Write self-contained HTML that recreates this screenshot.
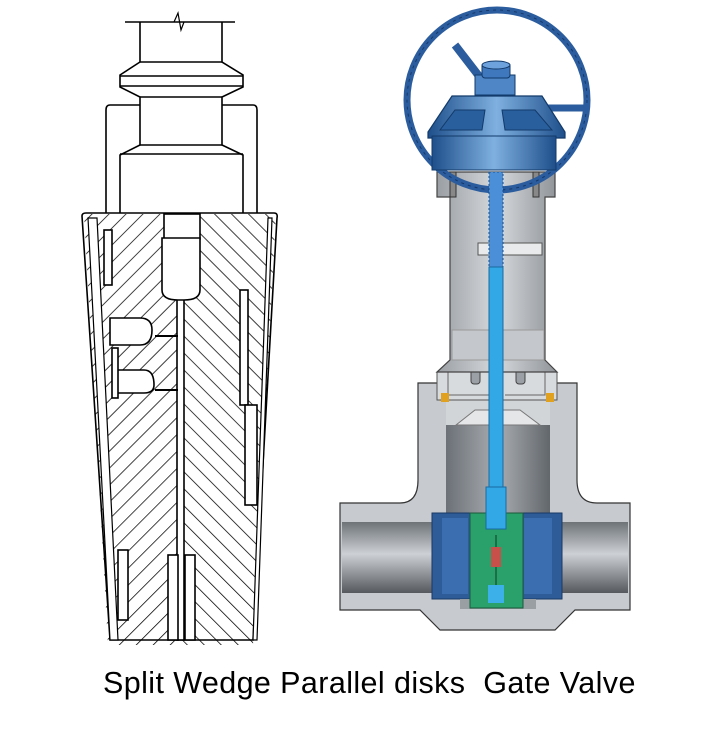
<!DOCTYPE html>
<html><head><meta charset="utf-8"><style>
html,body{margin:0;padding:0;background:#fff;width:726px;height:734px;overflow:hidden}
svg{position:absolute;left:0;top:0}
.t{position:absolute;left:103px;top:666px;font-family:"Liberation Sans",sans-serif;font-size:30.5px;color:#000;white-space:nowrap;letter-spacing:0.4px}
</style></head><body>
<svg width="726" height="734" viewBox="0 0 726 734">
<defs>
<pattern id="hl" patternUnits="userSpaceOnUse" width="12" height="12" patternTransform="rotate(45)">
<line x1="0" y1="0" x2="0" y2="12" stroke="#000" stroke-width="1.5"/></pattern>
<pattern id="hr" patternUnits="userSpaceOnUse" width="12" height="12" patternTransform="rotate(-45)">
<line x1="0" y1="0" x2="0" y2="12" stroke="#000" stroke-width="1.5"/></pattern>
<linearGradient id="pipe" x1="0" y1="0" x2="0" y2="1"><stop offset="0" stop-color="#6e7378"/><stop offset=".45" stop-color="#cdd1d5"/><stop offset="1" stop-color="#55595e"/></linearGradient>
<linearGradient id="bon" x1="0" y1="0" x2="1" y2="0"><stop offset="0" stop-color="#9a9fa4"/><stop offset=".5" stop-color="#d6d9dc"/><stop offset="1" stop-color="#8f9499"/></linearGradient>
<linearGradient id="cav" x1="0" y1="0" x2="1" y2="0"><stop offset="0" stop-color="#6c7177"/><stop offset=".5" stop-color="#a9adb2"/><stop offset="1" stop-color="#62676c"/></linearGradient>
<linearGradient id="cap" x1="0" y1="0" x2="1" y2="0"><stop offset="0" stop-color="#1f4f8a"/><stop offset=".5" stop-color="#7fb0e0"/><stop offset="1" stop-color="#1f4f8a"/></linearGradient>
<clipPath id="wl"><path d="M84 214 L181 214 L181 645 L108 645 Z"/></clipPath>
<clipPath id="wr"><path d="M181 214 L276 214 L253 645 L181 645 Z"/></clipPath>
</defs>
<!-- LEFT drawing -->
<g fill="none" stroke="#000" stroke-width="1.6">
<line x1="125" y1="22" x2="235" y2="22"/>
<path d="M174 22 L178 13 L181 30 L184 22" stroke-width="1.2"/>
<path d="M140 22 V62 L120 75 V87 L140 97 V145 L120 155 V213"/>
<path d="M222 22 V62 L243 75 V87 L222 97 V145 L243 155 V213"/>
<line x1="140" y1="62" x2="222" y2="62"/><line x1="120" y1="76" x2="243" y2="76"/><line x1="120" y1="86" x2="243" y2="86"/><line x1="140" y1="97" x2="222" y2="97"/>
<line x1="140" y1="145" x2="222" y2="145"/><line x1="120" y1="154" x2="243" y2="154"/>
<path d="M140 105 H110 Q106 105 106 110 V213"/>
<path d="M222 105 H253 Q257 105 257 110 V213"/>
</g>
<rect x="84" y="214" width="97" height="431" fill="url(#hl)" clip-path="url(#wl)"/>
<rect x="181" y="214" width="96" height="431" fill="url(#hr)" clip-path="url(#wr)"/>
<g fill="#fff" stroke="#000" stroke-width="1.6">
<path d="M82 216 Q82 213 86 213 L274 213 Q278 213 277 218 L253 640 L110 640 Z" fill="none"/>
<path d="M88 218 L97 218 L118 640 L110 640 Z" stroke-width="1.2"/>
<path d="M268 218 L272 218 L257 640 L253 640 Z" stroke-width="1.2"/>
<rect x="164" y="214" width="36" height="25"/>
<rect x="177" y="250" width="7" height="390"/>
<path d="M162 238 H200 V290 Q200 300 184 300 H178 Q162 300 162 290 Z"/>
<path d="M110 318 H140 Q152 318 152 330 Q152 345 140 345 H110 Z"/>
<path d="M116 370 H144 Q154 370 154 385 Q154 393 144 393 H116 Z"/>
<line x1="155" y1="336" x2="178" y2="336" stroke-width="2"/>
<line x1="155" y1="390" x2="178" y2="390" stroke-width="2"/>
<rect x="104" y="230" width="8" height="55"/>
<rect x="112" y="348" width="6" height="50"/>
<rect x="240" y="290" width="8" height="115"/>
<rect x="245" y="405" width="12" height="100"/>
<rect x="118" y="550" width="10" height="70"/>
<rect x="168" y="555" width="10" height="85"/>
<rect x="185" y="555" width="10" height="85"/>
</g>
<!-- RIGHT valve -->
<path d="M340 503 H400 Q418 503 418 480 V383 H577 V480 Q577 503 597 503 H630 V610 H575 L555 630 H440 L420 610 H340 Z" fill="#c7cbcf" stroke="#333" stroke-width="1.2"/>
<rect x="342" y="522" width="286" height="71" fill="url(#pipe)"/>
<rect x="446" y="425" width="104" height="90" fill="url(#cav)"/>
<path d="M446 400 H550 V425 H446 Z" fill="#d2d5d8"/>
<path d="M456 425 L475 410 H520 L540 425 Z" fill="#e4e6e8" stroke="#777"/>
<rect x="432" y="513" width="130" height="86" fill="#2d5c99" stroke="#1a3a66"/>
<rect x="442" y="518" width="26" height="76" fill="#3a6eb0"/>
<rect x="524" y="518" width="28" height="76" fill="#3a6eb0"/>
<rect x="460" y="599" width="76" height="10" fill="#9a9fa4"/>
<rect x="470" y="513" width="53" height="95" fill="#2aa06a" stroke="#1c5a3c"/>
<line x1="496" y1="535" x2="496" y2="585" stroke="#0d3d24"/>
<rect x="491" y="547" width="10" height="20" fill="#c8504a"/>
<rect x="488" y="585" width="16" height="18" fill="#3cb0e8"/>
<path d="M437 372 H557 V400 H437 Z" fill="#d8dbde" stroke="#555"/>
<path d="M448 372 L448 395 H490 M545 372 V395 H505" fill="none" stroke="#666"/>
<rect x="441" y="393" width="8" height="9" fill="#e0a020"/>
<rect x="546" y="393" width="8" height="9" fill="#e0a020"/>
<rect x="471" y="336" width="9" height="48" rx="3" fill="#9aa0a6" stroke="#444"/>
<rect x="516" y="336" width="9" height="48" rx="3" fill="#9aa0a6" stroke="#444"/>
<rect x="456" y="362" width="10" height="8" fill="#c8504a"/>
<rect x="530" y="362" width="10" height="8" fill="#c8504a"/>
<path d="M437 172 H555 V197 H545 V360 L557 372 H437 L450 360 V197 H437 Z" fill="url(#bon)" stroke="#444" stroke-width="1.2"/>
<rect x="452" y="330" width="92" height="30" fill="#c4c8cc" stroke="#999"/>
<rect x="478" y="243" width="64" height="12" fill="#e8eaec" stroke="#555"/>
<rect x="450" y="172" width="6" height="25" fill="#888" stroke="#333"/>
<rect x="533" y="172" width="6" height="25" fill="#888" stroke="#333"/>
<circle cx="497" cy="100" r="90" fill="none" stroke="#2b5d9e" stroke-width="7"/>
<circle cx="497" cy="100" r="90" fill="none" stroke="#16386a" stroke-width="1" stroke-dasharray="3 4"/>
<line x1="455" y1="45" x2="482" y2="80" stroke="#2b5d9e" stroke-width="8"/>
<line x1="545" y1="108" x2="588" y2="108" stroke="#2b5d9e" stroke-width="7"/>
<path d="M428 132 L452 96 H542 L565 132 V138 H428 Z" fill="url(#cap)" stroke="#123a6a" stroke-width="1.2"/>
<rect x="432" y="136" width="124" height="34" fill="url(#cap)" stroke="#123a6a"/>
<path d="M440 130 L455 110 H485 L482 130 Z M505 130 L502 110 H535 L552 130 Z" fill="#2a5f9e" stroke="#123a6a"/>
<rect x="475" y="75" width="40" height="20" fill="#4f86c6" stroke="#123a6a"/>
<rect x="482" y="63" width="28" height="15" rx="3" fill="#3f78bd" stroke="#123a6a"/>
<ellipse cx="496" cy="65" rx="14" ry="4" fill="#6ea2dc" stroke="#123a6a"/>
<rect x="489" y="172" width="14" height="95" fill="#4a8fd8" stroke="#1c4f8a" stroke-dasharray="2 2"/>
<rect x="489" y="267" width="14" height="220" fill="#33a8e6" stroke="#1a6aa0"/>
<rect x="486" y="487" width="20" height="42" fill="#33a8e6" stroke="#1a6aa0"/>
</svg>
<div class="t">Split Wedge Parallel disks&nbsp; Gate Valve</div>
</body></html>
